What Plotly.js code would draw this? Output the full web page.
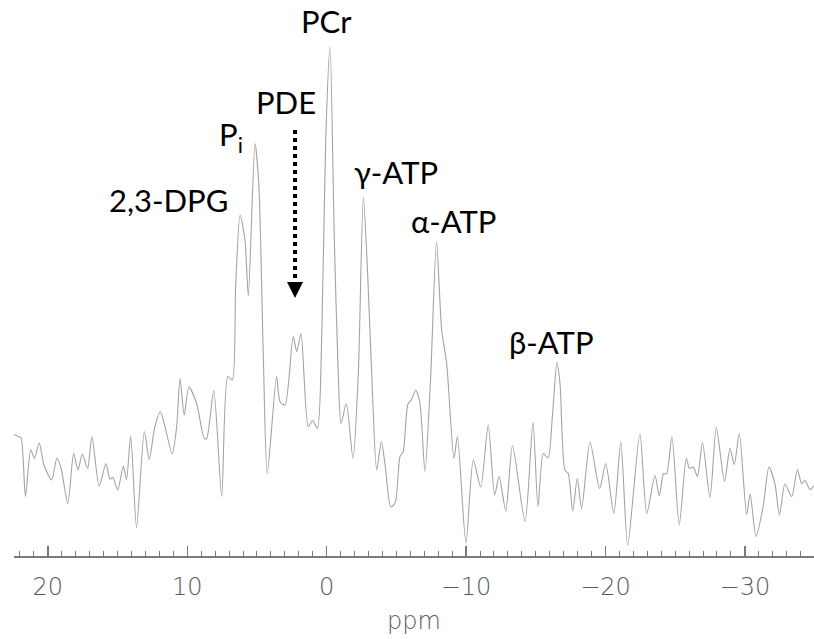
<!DOCTYPE html>
<html>
<head>
<meta charset="utf-8">
<script src="https://cdn.plot.ly/plotly-3.0.1.min.js"></script>
<style>html,body{margin:0;padding:0;background:#fff;}#chart{width:814px;height:639px;}</style>
</head>
<body>
<div id="chart"></div>
<script>
// 31P spectrum: chemical shift (ppm) and intensity (arbitrary units)
var ppm = [22.43,22.12,21.93,21.61,21.23,20.96,20.62,20.28,19.73,19.35,19.05,18.57,18.15,17.84,17.53,17.15,16.84,16.32,15.83,15.55,15.34,14.99,14.59,14.36,14.06,13.64,13.08,12.73,12.35,11.94,11.60,11.08,10.76,10.52,10.22,9.88,9.33,8.78,8.61,8.10,7.53,7.09,6.77,6.53,6.21,5.86,5.62,5.14,4.86,4.55,4.26,3.59,3.35,2.99,2.40,2.15,1.84,1.32,1.00,0.66,0.36,0.07,-0.24,-0.55,-0.83,-1.03,-1.41,-1.89,-2.27,-2.63,-2.94,-3.23,-3.59,-3.92,-4.18,-4.60,-4.92,-5.26,-5.49,-5.83,-6.07,-6.39,-6.69,-7.05,-7.45,-7.88,-8.25,-8.61,-9.13,-9.38,-9.99,-10.52,-11.05,-11.59,-12.05,-12.37,-12.85,-13.33,-14.23,-14.80,-15.16,-15.54,-15.88,-16.20,-16.52,-16.74,-17.09,-17.33,-17.65,-17.98,-18.29,-18.89,-19.58,-20.02,-20.60,-21.10,-21.59,-22.47,-22.96,-23.55,-23.86,-24.17,-24.38,-24.77,-25.29,-25.80,-26.03,-26.30,-26.60,-26.96,-27.50,-27.95,-28.54,-28.93,-29.24,-29.60,-30.13,-30.38,-30.80,-31.32,-31.73,-32.16,-32.48,-32.88,-33.36,-33.77,-34.07,-34.31,-34.67,-34.96];
var intensity = [24.3,23.9,23.7,11.9,21.2,19.5,22.6,18.2,15.2,19.6,17.5,10.5,20.5,17.2,20.4,17.5,23.9,14.0,18.5,15.4,15.7,13.2,18.0,15.3,24.0,5.7,24.9,19.3,25.5,28.9,25.9,20.4,25.9,35.5,28.2,33.8,30.5,23.5,23.5,33.1,11.9,35.9,35.2,53.9,68.2,63.2,52.0,82.5,73.9,40.5,16.5,35.9,30.9,30.2,43.9,40.9,44.5,25.9,27.1,25.5,43.2,83.2,101.9,63.2,36.5,26.5,30.5,19.5,36.5,71.9,56.5,36.5,17.2,22.9,18.5,9.8,10.7,19.9,20.9,30.4,31.2,33.2,30.6,16.9,35.2,62.9,45.2,38.5,19.5,23.9,2.6,19.2,13.8,26.2,12.2,15.9,9.0,22.1,6.9,26.7,9.9,20.5,19.6,28.2,38.8,34.5,17.2,16.5,9.0,15.5,9.5,22.8,13.5,18.5,8.5,22.8,2.2,24.5,8.5,16.1,12.1,16.5,16.4,23.9,6.2,19.5,17.5,17.8,15.9,22.7,11.7,25.7,14.9,21.5,18.3,24.5,8.3,12.4,3.9,10.0,17.8,14.4,8.2,14.4,11.9,17.3,14.5,15.1,13.3,14.1];
var tickVals = [20, 10, 0, -10, -20, -30];
var tickText = ['20', '10', '0', '\u221210', '\u221220', '\u221230'];
var peakLabels = ['PCr', 'PDE', 'P<sub>i</sub>', '2,3-DPG', '\u03b3-ATP', '\u03b1-ATP', '\u03b2-ATP'];
var labelPpm = [0.0, 2.92, 6.85, 11.38, -4.97, -9.13, -16.16];
var labelY = [107, 90.8, 84, 71.2, 76.8, 67, 42.8];

var trace = {
  x: ppm, y: intensity, type: 'scatter', mode: 'lines',
  line: {color: '#a3a3a3', width: 1.1, shape: 'spline', smoothing: 0.7},
  hoverinfo: 'skip'
};

var labelFont = {family: 'Lato, "Open Sans", sans-serif', size: 31, color: '#000'};
var annotations = peakLabels.map(function(t, i) {
  return {x: labelPpm[i], y: labelY[i], xref: 'x', yref: 'y', text: t, showarrow: false,
          font: labelFont, xanchor: 'center', yanchor: 'middle'};
});
// arrow head of the dotted PDE arrow
annotations.push({x: 2.27, y: 51.6, xref: 'x', yref: 'y', text: '', showarrow: true,
  ax: 0, ay: -6, arrowhead: 2, arrowsize: 1.6, arrowwidth: 2, arrowcolor: '#000'});

var axisFont = {family: '"DejaVu Sans", Roboto, sans-serif', size: 24, color: '#5a5a5a', weight: 200};

var layout = {
  width: 814, height: 639,
  margin: {l: 14, r: 0, t: 0, b: 83},
  paper_bgcolor: '#fff', plot_bgcolor: '#fff',
  showlegend: false,
  xaxis: {
    range: [22.43, -34.96], autorange: false,
    showgrid: false, zeroline: false,
    showline: true, linecolor: '#7a7a7a', linewidth: 1.5,
    ticks: 'inside', ticklen: 10, tickwidth: 1.3, tickcolor: '#7a7a7a',
    tickvals: tickVals, ticktext: tickText,
    minor: {dtick: 1, tick0: 0, ticks: 'inside', ticklen: 5, tickwidth: 1, tickcolor: '#7a7a7a', showgrid: false},
    tickfont: axisFont,
    ticklabelstandoff: 9,
    title: {text: 'ppm', font: {family: '"DejaVu Sans", Roboto, sans-serif', size: 24, color: '#5a5a5a', weight: 200}, standoff: 12}
  },
  yaxis: {range: [0, 111.2], autorange: false, visible: false, showgrid: false, zeroline: false},
  shapes: [{type: 'line', xref: 'x', yref: 'y', x0: 2.27, x1: 2.27, y0: 85.2, y1: 55.5,
            line: {color: '#000', width: 4, dash: 'dot'}}],
  annotations: annotations
};

Plotly.newPlot('chart', [trace], layout, {displayModeBar: false, staticPlot: true});
</script>
</body>
</html>
